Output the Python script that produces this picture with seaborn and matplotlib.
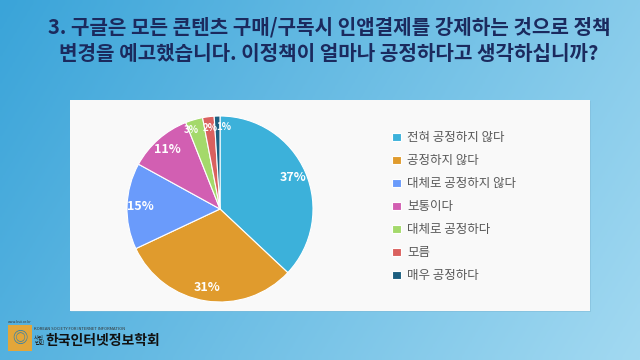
import numpy as np
import matplotlib
matplotlib.use("Agg")
import matplotlib.pyplot as plt
from matplotlib.patches import Rectangle
import seaborn as sns

categories = ["전혀 공정하지 않다", "공정하지 않다", "대체로 공정하지 않다", "보통이다",
              "대체로 공정하다", "모름", "매우 공정하다"]
values = [37, 31, 15, 11, 3, 2, 1]
colors = ["#3cb1da", "#e09b2d", "#6a9bfb", "#d25fb2", "#a4d96b", "#da615f", "#1c5f80"]
title_lines = ["3. 구글은 모든 콘텐츠 구매/구독시 인앱결제를 강제하는 것으로 정책",
               "변경을 예고했습니다. 이정책이 얼마나 공정하다고 생각하십니까?"]

sns.set_theme(style="white")
plt.rcParams['font.family'] = ['Noto Sans CJK KR', 'DejaVu Sans']

W, H = 640, 360
fig = plt.figure(figsize=(6.4, 3.6), dpi=100)

# background gradient
bg = fig.add_axes([0, 0, 1, 1])
gx = np.linspace(0, 1, 256)
gy = np.linspace(0, 1, 64)
X, Y = np.meshgrid(gx, gy)
c0 = np.array([0x3a, 0xa4, 0xd9]) / 255
c1 = np.array([0xa2, 0xd9, 0xf1]) / 255
t = np.clip(0.75 * X + 0.25 * Y, 0, 1)[..., None]
img = c0 * (1 - t) + c1 * t
bg.imshow(img, extent=[0, 1, 0, 1], aspect="auto", origin="upper")
bg.set_xlim(0, 1); bg.set_ylim(0, 1)
bg.axis("off")

# white panel
px0, px1, py0, py1 = 70, 590, 100, 311
bg.add_patch(Rectangle((px0 / W + 0.002, 1 - py1 / H - 0.004), (px1 - px0) / W, (py1 - py0) / H,
                       facecolor="#7fb9d6", edgecolor="none", alpha=0.5, zorder=2))
bg.add_patch(Rectangle((px0 / W, 1 - py1 / H), (px1 - px0) / W, (py1 - py0) / H,
                       facecolor="#f9f9f9", edgecolor="none", zorder=3))

# title
bg.text(329 / W, 1 - 27 / H, title_lines[0], ha="center", va="center", fontsize=14.5,
        color="#1b2a5e", fontweight="bold", zorder=5)
bg.text(329 / W, 1 - 53 / H, title_lines[1], ha="center", va="center", fontsize=14.5,
        color="#1b2a5e", fontweight="bold", zorder=5)

# logo
bg.add_patch(Rectangle((8 / W, 1 - 351 / H), 24 / W, 26 / H, facecolor="#e2a63a",
                       edgecolor="none", zorder=5))
bg.text(20 / W, 1 - 338 / H, "◎", ha="center", va="center", fontsize=11, color="#2a7fb0", zorder=6)
bg.text(8 / W, 1 - 322 / H, "www.ksii.or.kr", ha="left", va="center", fontsize=2.5, color="#333333", zorder=6)
bg.text(34 / W, 1 - 329 / H, "KOREAN SOCIETY FOR INTERNET INFORMATION", ha="left", va="center",
        fontsize=3, color="#333333", zorder=6)
bg.text(34 / W, 1 - 341 / H, "사단\n법인", ha="left", va="center", fontsize=4, color="#222222",
        linespacing=1.0, zorder=6)
bg.text(45 / W, 1 - 341 / H, "한국인터넷정보학회", ha="left", va="center", fontsize=10,
        color="#111111", fontweight="bold", zorder=6)

# pie
cx, cy, r = 220, 209, 93
ax = fig.add_axes([(cx - r) / W, (H - cy - r) / H, 2 * r / W, 2 * r / H])
wedges, texts, autotexts = ax.pie(values, colors=colors, startangle=90, counterclock=False,
                                  autopct="%.0f%%", pctdistance=0.86,
                                  wedgeprops=dict(edgecolor="white", linewidth=0.8),
                                  textprops=dict(color="white", fontsize=9, fontweight="bold"))
# small slices: shrink and spread labels so they do not collide
nudges = {4: -0.07, 5: 0.0, 6: 0.07}
for i, at in enumerate(autotexts):
    if i in nudges:
        at.set_fontsize(7)
        x, y = at.get_position()
        at.set_position((x + nudges[i], y + 0.02))
ax.set_xlim(-1, 1); ax.set_ylim(-1, 1)
ax.set_aspect("equal")
ax.axis("off")
for w in wedges:
    w.set_clip_on(False)

# legend
leg = fig.legend(wedges, categories, loc="upper left",
                 bbox_to_anchor=(386 / W, 1 - 125 / H), frameon=False,
                 fontsize=9, labelcolor="#595959", handlelength=0.7, handleheight=0.7,
                 handletextpad=0.5, labelspacing=0.8, borderpad=0)

fig.savefig("out.png", dpi=100)
